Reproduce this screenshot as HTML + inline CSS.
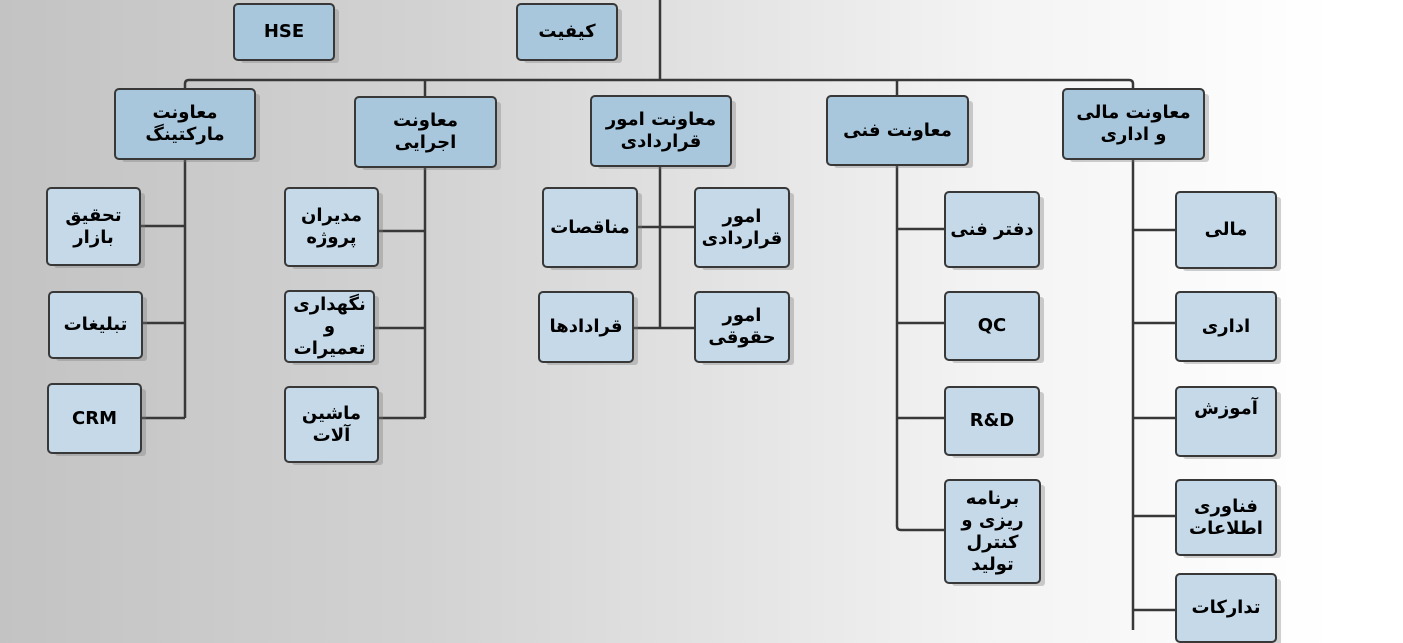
<!DOCTYPE html>
<html><head><meta charset="utf-8"><style>
html,body{margin:0;padding:0}
body{width:1403px;height:630px;position:relative;overflow:hidden;
background:linear-gradient(90deg,#c3c3c3 0%,#d2d2d2 30%,#e2e2e2 50%,#f3f3f3 70%,#fff 95%);
font-family:"DejaVu Sans","Liberation Sans",sans-serif;}
.b{position:absolute;box-sizing:border-box;border:2.5px solid #383838;border-radius:5px;background:#c5d9e8;
display:flex;align-items:center;justify-content:center;text-align:center;font-weight:bold;font-size:18px;line-height:22px;color:#000;direction:rtl;
box-shadow:6px 4px 0 -2px rgba(120,120,120,0.35)}
.t{background:#a9c7dc}
svg{position:absolute;left:0;top:0}
</style></head><body>
<svg width="1403" height="630" fill="none" stroke="#383838" stroke-width="2.5">
<path d="M660 0V80M185 88V84q0-4 4-4H1129q4 0 4 4V88M425 80V96M897 80V95"/>
<path d="M185 159V418M140 226H185M142 323H185M141 418H185"/>
<path d="M425 167V418M378 231H425M374 328H425M378 418H425"/>
<path d="M660 166V328M637 227H694M633 328H694"/>
<path d="M897 165V526q0 4 4 4H944M897 229H944M897 323H944M897 418H944"/>
<path d="M1133 159V630M1133 230H1175M1133 323H1175M1133 418H1175M1133 516H1175M1133 610H1175"/>
</svg>
<div class="b t" style="left:233px;top:3px;width:102px;height:58px">HSE</div>
<div class="b t" style="left:516px;top:3px;width:102px;height:58px">کیفیت</div>
<div class="b t" style="left:114px;top:88px;width:142px;height:72px">معاونت<br>مارکتینگ</div>
<div class="b t" style="left:354px;top:96px;width:143px;height:72px">معاونت<br>اجرایی</div>
<div class="b t" style="left:590px;top:95px;width:142px;height:72px">معاونت امور<br>قراردادی</div>
<div class="b t" style="left:826px;top:95px;width:143px;height:71px">معاونت فنی</div>
<div class="b t" style="left:1062px;top:88px;width:143px;height:72px">معاونت مالی<br>و اداری</div>

<div class="b" style="left:46px;top:187px;width:95px;height:79px">تحقیق<br>بازار</div>
<div class="b" style="left:48px;top:291px;width:95px;height:68px">تبلیغات</div>
<div class="b" style="left:47px;top:383px;width:95px;height:71px">CRM</div>

<div class="b" style="left:284px;top:187px;width:95px;height:80px">مدیران<br>پروژه</div>
<div class="b" style="left:284px;top:290px;width:91px;height:73px">نگهداری<br>و<br>تعمیرات</div>
<div class="b" style="left:284px;top:386px;width:95px;height:77px">ماشین<br>آلات</div>

<div class="b" style="left:542px;top:187px;width:96px;height:81px">مناقصات</div>
<div class="b" style="left:694px;top:187px;width:96px;height:81px">امور<br>قراردادی</div>
<div class="b" style="left:538px;top:291px;width:96px;height:72px">قرادادها</div>
<div class="b" style="left:694px;top:291px;width:96px;height:72px">امور<br>حقوقی</div>

<div class="b" style="left:944px;top:191px;width:96px;height:77px">دفتر فنی</div>
<div class="b" style="left:944px;top:291px;width:96px;height:70px">QC</div>
<div class="b" style="left:944px;top:386px;width:96px;height:70px">R&amp;D</div>
<div class="b" style="left:944px;top:479px;width:97px;height:105px">برنامه<br>ریزی و<br>کنترل<br>تولید</div>

<div class="b" style="left:1175px;top:191px;width:102px;height:78px">مالی</div>
<div class="b" style="left:1175px;top:291px;width:102px;height:71px">اداری</div>
<div class="b" style="left:1175px;top:386px;width:102px;height:71px;align-items:flex-start;padding-top:10px">آموزش</div>
<div class="b" style="left:1175px;top:479px;width:102px;height:77px">فناوری<br>اطلاعات</div>
<div class="b" style="left:1175px;top:573px;width:102px;height:70px;align-items:flex-start;padding-top:22px">تدارکات</div>
</body></html>
